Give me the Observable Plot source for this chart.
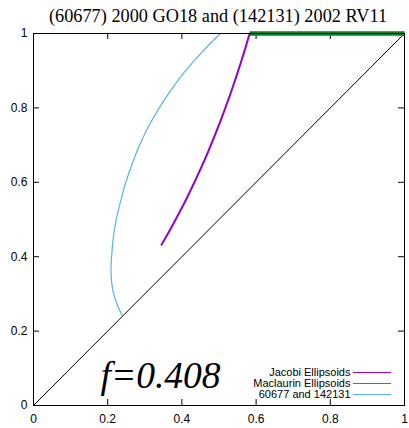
<!DOCTYPE html>
<html><head><meta charset="utf-8">
<script src="https://cdn.jsdelivr.net/npm/d3@7"></script>
<script src="https://cdn.jsdelivr.net/npm/@observablehq/plot@0.6"></script>
<style>body{margin:0;background:#fff}</style>
</head><body><div id="chart"></div>
<script>
const ticks = [0, 0.2, 0.4, 0.6, 0.8, 1];
const jacobiX = [0.5827, 0.5708, 0.5583, 0.5453, 0.5316, 0.5172, 0.5021, 0.4863, 0.4697, 0.4522, 0.4338, 0.4144, 0.3939, 0.3724, 0.3496, 0.3451];
const jacobiY = [1.00, 0.96, 0.92, 0.88, 0.84, 0.80, 0.76, 0.72, 0.68, 0.64, 0.60, 0.56, 0.52, 0.48, 0.44, 0.4322];
const maclaurinX = [0.5827, 1];
const maclaurinY = [1, 1];
const diagX = [0, 1];
const diagY = [0, 1];
const astX = [0.504, 0.454, 0.410, 0.372, 0.339, 0.310, 0.286, 0.266, 0.249, 0.235, 0.223, 0.215, 0.2105, 0.209, 0.214, 0.225, 0.239];
const astY = [1.00, 0.95, 0.90, 0.85, 0.80, 0.75, 0.70, 0.65, 0.60, 0.55, 0.50, 0.45, 0.40, 0.354, 0.309, 0.273, 0.242];
const titleText = "(60677) 2000 GO18 and (142131) 2002 RV11";
const fLabel = "f=0.408";
const legendLabels = ["Jacobi Ellipsoids", "Maclaurin Ellipsoids", "60677 and 142131"];
const legendColors = ["#9400d3", "#009e73", "#56b4e9"];

const pts = (xs, ys) => xs.map((x, i) => ({x, y: ys[i]}));
const W = 409, H = 428, mL = 33, mR = 5, mT = 33, mB = 23;
const frameH = H - mT - mB, frameW = W - mL - mR;
const tickLen = 6;

const svg = Plot.plot({
  width: W, height: H,
  marginLeft: mL, marginRight: mR, marginTop: mT, marginBottom: mB,
  style: {fontFamily: "Liberation Sans, Arial, sans-serif", fontSize: "12px", background: "#fff", color: "#000"},
  x: {domain: [0, 1], label: null},
  y: {domain: [0, 1], label: null},
  marks: [
    Plot.axisX(ticks, {tickSize: 0, tickPadding: 9, fontSize: 12, tickFormat: d3.format(""), label: null}),
    Plot.axisY(ticks, {tickSize: 0, tickPadding: 6, fontSize: 12, tickFormat: d3.format(""), label: null}),
    Plot.ruleX(ticks.slice(1, -1), {insetTop: frameH - tickLen, stroke: "#000"}),
    Plot.ruleX(ticks.slice(1, -1), {insetBottom: frameH - tickLen, stroke: "#000"}),
    Plot.ruleY(ticks.slice(1, -1), {insetRight: frameW - tickLen, stroke: "#000"}),
    Plot.ruleY(ticks.slice(1, -1), {insetLeft: frameW - tickLen, stroke: "#000"}),
    Plot.line(pts(diagX, diagY), {x: "x", y: "y", stroke: "#000", strokeWidth: 1}),
    Plot.line(pts(astX, astY), {x: "x", y: "y", stroke: legendColors[2], strokeWidth: 1.2, curve: "catmull-rom"}),
    Plot.line(pts(jacobiX, jacobiY), {x: "x", y: "y", stroke: legendColors[0], strokeWidth: 2, curve: "catmull-rom"}),
    Plot.line(pts(maclaurinX, maclaurinY), {x: "x", y: "y", stroke: "#00862b", strokeWidth: 4.5, strokeLinecap: "butt"}),
    Plot.frame({stroke: "#000", strokeWidth: 1}),
    Plot.text([titleText], {text: d => d, frameAnchor: "top", dy: -12, dx: -1, lineAnchor: "bottom",
      fontFamily: "Liberation Serif, Times New Roman, serif", fontSize: 18.3}),
    Plot.text([fLabel], {text: d => d, frameAnchor: "bottom-left", dx: 67, dy: -18, lineAnchor: "bottom", textAnchor: "start",
      fontFamily: "Liberation Serif, Times New Roman, serif", fontSize: 37.5, fontStyle: "italic"}),
    ...legendLabels.map((t, i) => Plot.text([t], {text: d => d, frameAnchor: "bottom-right", dx: -54, dy: -33 + 11 * i,
      textAnchor: "end", lineAnchor: "middle", fontSize: 11}))
  ]
});

// legend sample lines
const s = d3.select(svg);
legendColors.forEach((c, i) => {
  const yy = H - mB - 33 + 11 * i + 0.5;
  s.append("line").attr("x1", W - mR - 51).attr("x2", W - mR - 13)
    .attr("y1", yy).attr("y2", yy).attr("stroke", c).attr("stroke-width", 1);
});
document.getElementById("chart").appendChild(svg);
</script>
</body></html>
